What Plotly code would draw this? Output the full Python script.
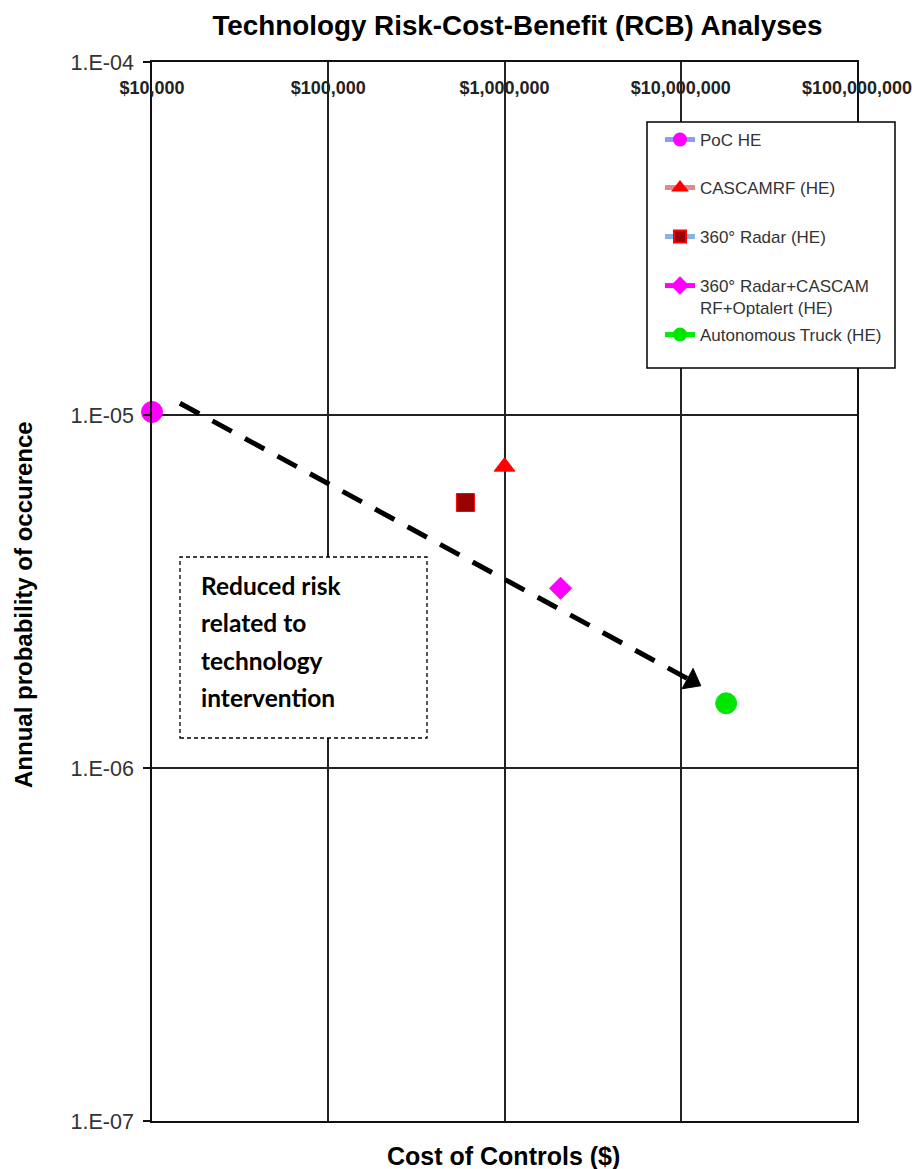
import plotly.graph_objects as go

# ---------------- data ----------------
series_names = ["PoC HE", "CASCAMRF (HE)", "360° Radar (HE)",
                "360° Radar+CASCAM<br>RF+Optalert (HE)", "Autonomous Truck (HE)"]
cost_usd = [1.0e4, 1.0e6, 6.0e5, 2.08e6, 1.81e7]
annual_prob = [1.02e-5, 7.14e-6, 5.65e-6, 3.23e-6, 1.525e-6]

x_tick_vals = [1e4, 1e5, 1e6, 1e7, 1e8]
x_tick_text = ["$10,000", "$100,000", "$1,000,000", "$10,000,000", "$100,000,000"]
y_tick_vals = [1e-7, 1e-6, 1e-5, 1e-4]
y_tick_text = ["1.E-07", "1.E-06", "1.E-05", "1.E-04"]

# trend arrow (start, end) in data units
arrow_cost = [1.44e4, 1.158e7]
arrow_prob = [1.08e-5, 1.764e-6]

note_lines = ["Reduced risk", "related to", "technology", "intervention"]

# ---------------- styles ----------------
marker_symbols = ["circle", "triangle-up", "square", "diamond", "circle"]
marker_colors = ["#ff00ff", "#ff0000", "#990000", "#ff00ff", "#00e600"]
marker_line_colors = ["#ff00ff", "#ff0000", "#ff0000", "#ff00ff", "#00e600"]
marker_sizes = [21, 18, 18, 17, 21]
line_colors = ["#8c9ee8", "#e08a8a", "#84b4e0", "#ff00ff", "#00ee00"]
legend_item_y = [139, 187, 236, 285, 334]   # screen px of legend rows

ARIAL = "Arial, Liberation Sans, sans-serif"

# body margin is removed by a post script, so layout px == screen px
W, H = 915, 1169
PL, PR, PT, PB = 152, 857, 62, 1121          # plot area in screen pixels
L, T = PL, PT
R, B = W - PR, H - PB
pw, ph = PR - PL, PB - PT


def px_x(sx):
    return (sx - PL) / pw


def px_y(sy):
    return (PB - sy) / ph


fig = go.Figure()

legend_layouts = {}
for i, name in enumerate(series_names):
    lg = "legend" if i == 0 else f"legend{i + 1}"
    fig.add_trace(go.Scatter(
        x=[cost_usd[i]], y=[annual_prob[i]], name=name,
        mode="lines+markers", legend=lg,
        line=dict(color=line_colors[i], width=1),
        marker=dict(symbol=marker_symbols[i], size=marker_sizes[i],
                    color=marker_colors[i],
                    line=dict(color=marker_line_colors[i], width=1)),
        cliponaxis=False,
    ))
    legend_layouts[lg] = dict(
        x=px_x(660), y=px_y(legend_item_y[i] - 17), xanchor="left", yanchor="top",
        bgcolor="rgba(0,0,0,0)", borderwidth=0, valign="top",
        itemsizing="constant", itemwidth=30,
        font=dict(family=ARIAL, size=17, color="#333333"))

# invisible companion trace so the top label axis (xaxis2) is drawn
fig.add_trace(go.Scatter(
    x=cost_usd, y=annual_prob, xaxis="x2", yaxis="y", mode="markers",
    marker=dict(opacity=0), showlegend=False, hoverinfo="skip",
))

# dashed trend arrow
fig.add_trace(go.Scatter(
    x=arrow_cost, y=arrow_prob, mode="lines+markers", showlegend=False,
    line=dict(color="#000000", width=5, dash="22px,15px"),
    marker=dict(symbol=["circle", "triangle-up"], size=[0, 20], opacity=1,
                color="#000000", line=dict(color="#000000", width=1),
                angleref="previous"),
    opacity=1, cliponaxis=False, hoverinfo="skip",
))

# legend box
fig.add_shape(type="rect", xref="paper", yref="paper",
              x0=px_x(647), x1=px_x(895), y0=px_y(368), y1=px_y(122),
              line=dict(color="black", width=1.5), fillcolor="white",
              layer="above")

# note box
fig.add_shape(type="rect", xref="paper", yref="paper",
              x0=px_x(180), x1=px_x(427), y0=px_y(738), y1=px_y(557),
              line=dict(color="black", width=1.3, dash="4px,3px"),
              fillcolor="white", layer="above")

for k, txt in enumerate(note_lines):
    fig.add_annotation(xref="paper", yref="paper", x=px_x(199),
                       y=px_y(585 + 37.6 * k), xanchor="left", yanchor="middle",
                       text=txt, showarrow=False,
                       font=dict(family="Lato, sans-serif", size=24.5,
                                 color="black", weight="bold"))

# x axis title (bottom)
fig.add_annotation(xref="paper", yref="paper", x=px_x(503), y=px_y(1156),
                   xanchor="center", yanchor="middle", showarrow=False,
                   text="Cost of Controls ($)",
                   font=dict(family=ARIAL, size=25, color="black", weight="bold"))

# y axis title
fig.add_annotation(xref="paper", yref="paper", x=px_x(23), y=px_y(605),
                   xanchor="center", yanchor="middle", showarrow=False,
                   textangle=-90, text="Annual probability of occurence",
                   font=dict(family=ARIAL, size=24, color="black", weight="bold"))

axis_common = dict(showgrid=True, gridcolor="#222222", gridwidth=1.5,
                   showline=True, linecolor="#111111", linewidth=1.5,
                   mirror=True, zeroline=False)

fig.update_layout(
    width=W, height=H,
    margin=dict(l=L, r=R, t=T, b=B, autoexpand=False),
    paper_bgcolor="white", plot_bgcolor="white",
    title=dict(text="Technology Risk-Cost-Benefit (RCB) Analyses",
               x=px_x(517.5), xref="paper", xanchor="center",
               y=1 - 25 / H, yref="container", yanchor="middle",
               font=dict(family=ARIAL, size=27.8, color="black", weight="bold")),
    showlegend=True,
    xaxis=dict(type="log", range=[4, 8], side="top",
               tickvals=x_tick_vals, showticklabels=False, ticks="",
               **axis_common),
    xaxis2=dict(type="log", range=[4, 8], overlaying="x", anchor="free",
                position=px_y(75), side="bottom",
                tickvals=x_tick_vals, ticktext=x_tick_text, ticks="",
                showgrid=False, showline=False, zeroline=False,
                tickfont=dict(family=ARIAL, size=18, color="#222222",
                              weight="bold")),
    yaxis=dict(type="log", range=[-7, -4],
               tickvals=y_tick_vals, ticktext=y_tick_text,
               ticks="outside", ticklen=7, tickwidth=1.5, tickcolor="#111111",
               ticklabelstandoff=5,
               tickfont=dict(family=ARIAL, size=21.5, color="#333333"),
               **axis_common),
    **legend_layouts,
)

fig.write_html(
    "out.html",
    config={"displayModeBar": False},
    post_script="document.body.style.margin='0';"
                "document.body.style.overflow='hidden';",
)
